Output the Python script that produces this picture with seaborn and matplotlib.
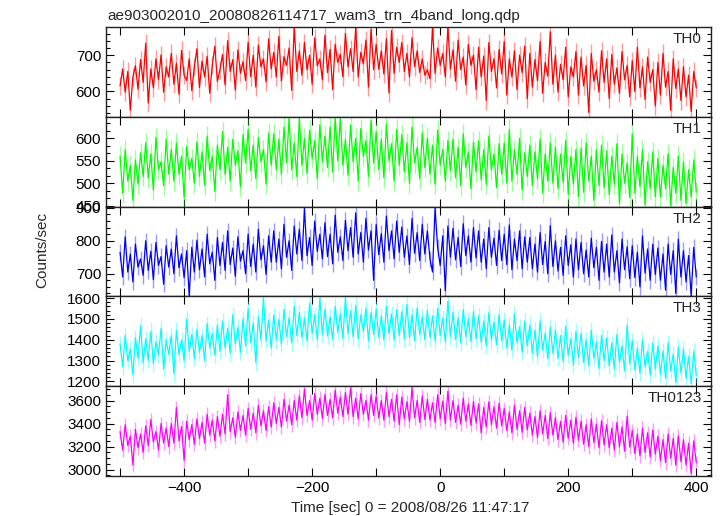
#!/usr/bin/env python
"""
Curvas de luz WAM (4 bandas + suma) para ae903002010, trigger 2008/08/26 11:47:17.
Cinco paneles apilados con eje de tiempo compartido.
"""

import numpy as np
import pandas as pd
import matplotlib
matplotlib.use("Agg")
import matplotlib.pyplot as plt
from matplotlib.ticker import MultipleLocator, FuncFormatter
import seaborn as sns

# --- datos (counts/sec, bins de 4 s desde t = -500 s) ---
BIN_START = -500
BIN_WIDTH = 4

th0_rate = [
    615, 662, 598, 655, 548, 640, 671, 606, 688, 625,
    733, 568, 662, 610, 690, 632, 701, 598, 668, 640,
    705, 620, 678, 592, 713, 645, 630, 690, 602, 668,
    718, 611, 684, 640, 697, 595, 672, 725, 628, 660,
    702, 618, 740, 655, 688, 604, 715, 650, 682, 630,
    736, 641, 700, 612, 728, 668, 690, 626, 745, 662,
    708, 640, 752, 629, 696, 672, 720, 603, 778, 655,
    712, 645, 735, 660, 700, 620, 748, 671, 690, 632,
    755, 652, 716, 605, 730, 680, 702, 640, 760, 668,
    718, 655, 776, 640, 708, 676, 742, 612, 772, 660,
    730, 661, 712, 648, 745, 596, 768, 650, 722, 680,
    735, 655, 705, 640, 748, 668, 712, 652, 690, 645,
    660, 635, 778, 650, 720, 672, 705, 640, 778, 662,
    715, 628, 742, 660, 695, 618, 730, 672, 700, 605,
    722, 640, 698, 575, 735, 655, 690, 610, 716, 648,
    738, 590, 690, 640, 712, 605, 700, 652, 725, 580,
    705, 612, 688, 630, 738, 595, 680, 642, 765, 620,
    700, 598, 675, 632, 722, 585, 668, 640, 710, 590,
    695, 615, 672, 542, 705, 628, 660, 598, 712, 625,
    690, 580, 702, 620, 665, 595, 710, 632, 672, 585,
    685, 600, 722, 610, 668, 578, 695, 625, 660, 560,
    680, 590, 705, 612, 655, 548, 690, 608, 662, 575,
    668, 585, 645, 545, 655, 610,
]

th1_rate = [
    560, 478, 575, 505, 540, 462, 552, 498, 568, 515,
    590, 512, 565, 485, 602, 530, 548, 495, 598, 520,
    575, 505, 590, 520, 560, 468, 582, 530, 555, 500,
    592, 515, 570, 495, 605, 528, 560, 482, 585, 530,
    615, 520, 580, 505, 598, 540, 572, 492, 608, 545,
    620, 528, 585, 510, 602, 548, 575, 498, 612, 540,
    610, 530, 598, 520, 625, 545, 646, 530, 590, 515,
    646, 540, 600, 522, 618, 555, 595, 510, 630, 548,
    605, 535, 625, 525, 646, 550, 645, 540, 598, 518,
    630, 548, 600, 505, 622, 560, 595, 515, 640, 545,
    615, 530, 598, 512, 632, 550, 588, 505, 620, 540,
    608, 525, 590, 500, 625, 545, 580, 510, 612, 535,
    600, 520, 585, 498, 618, 540, 575, 505, 595, 528,
    598, 512, 580, 495, 610, 535, 570, 488, 592, 525,
    595, 508, 575, 498, 605, 530, 565, 490, 588, 520,
    590, 500, 620, 505, 575, 520, 600, 485, 568, 515,
    585, 495, 570, 510, 598, 478, 565, 505, 590, 500,
    580, 488, 565, 502, 595, 475, 560, 498, 575, 470,
    578, 480, 590, 505, 560, 462, 575, 495, 585, 490,
    572, 475, 560, 498, 588, 455, 565, 500, 545, 468,
    610, 478, 560, 492, 575, 452, 548, 488, 570, 470,
    555, 470, 540, 488, 566, 450, 535, 478, 560, 462,
    548, 455, 530, 470, 552, 480,
]

th2_rate = [
    765, 690, 812, 705, 760, 675, 790, 720, 745, 695,
    800, 710, 768, 682, 795, 725, 752, 668, 785, 720,
    775, 700, 815, 718, 760, 688, 770, 632, 780, 705,
    802, 712, 775, 690, 820, 730, 765, 680, 810, 725,
    795, 710, 830, 728, 778, 692, 812, 738, 770, 700,
    820, 722, 790, 705, 835, 742, 785, 698, 815, 735,
    830, 735, 805, 715, 850, 750, 800, 710, 845, 760,
    835, 740, 898, 755, 810, 725, 860, 768, 820, 745,
    855, 752, 820, 730, 878, 765, 812, 740, 862, 770,
    840, 750, 885, 760, 825, 735, 868, 772, 830, 680,
    850, 758, 822, 735, 875, 770, 830, 745, 860, 765,
    842, 750, 815, 728, 868, 762, 825, 740, 850, 760,
    830, 745, 705, 899, 780, 725, 815, 648, 845, 750,
    838, 742, 810, 722, 852, 755, 815, 735, 840, 748,
    830, 735, 805, 715, 840, 750, 808, 725, 832, 740,
    820, 728, 848, 712, 805, 740, 830, 715, 812, 735,
    810, 715, 790, 705, 825, 728, 798, 700, 846, 722,
    800, 708, 780, 695, 815, 725, 788, 690, 805, 712,
    795, 700, 772, 690, 808, 718, 780, 680, 798, 705,
    790, 690, 818, 705, 770, 672, 805, 712, 782, 685,
    785, 688, 765, 660, 815, 702, 775, 680, 790, 698,
    778, 680, 760, 650, 790, 698, 770, 640, 805, 690,
    770, 675, 755, 632, 780, 690,
]

th3_rate = [
    1380, 1270, 1420, 1300, 1355, 1232, 1410, 1310, 1468, 1290,
    1405, 1300, 1440, 1285, 1390, 1325, 1455, 1260, 1400, 1330,
    1420, 1237, 1445, 1330, 1400, 1300, 1500, 1345, 1425, 1310,
    1450, 1340, 1420, 1300, 1478, 1360, 1430, 1325, 1470, 1345,
    1490, 1360, 1455, 1335, 1520, 1380, 1460, 1340, 1500, 1370,
    1550, 1385, 1480, 1290, 1510, 1400, 1600, 1395, 1495, 1360,
    1520, 1400, 1498, 1378, 1545, 1415, 1505, 1385, 1560, 1420,
    1530, 1410, 1505, 1395, 1575, 1430, 1520, 1400, 1600, 1425,
    1545, 1418, 1510, 1400, 1560, 1435, 1525, 1405, 1600, 1430,
    1540, 1415, 1565, 1405, 1520, 1440, 1550, 1395, 1530, 1425,
    1548, 1412, 1515, 1400, 1560, 1430, 1525, 1398, 1545, 1420,
    1535, 1405, 1570, 1410, 1520, 1395, 1552, 1425, 1510, 1400,
    1540, 1410, 1515, 1395, 1550, 1420, 1505, 1390, 1585, 1415,
    1530, 1400, 1505, 1385, 1545, 1415, 1500, 1392, 1535, 1405,
    1515, 1388, 1490, 1370, 1530, 1400, 1485, 1375, 1520, 1395,
    1495, 1360, 1470, 1350, 1525, 1385, 1462, 1340, 1490, 1370,
    1470, 1335, 1445, 1320, 1490, 1350, 1432, 1310, 1460, 1335,
    1445, 1310, 1420, 1295, 1465, 1325, 1405, 1280, 1440, 1315,
    1430, 1290, 1400, 1275, 1445, 1310, 1390, 1262, 1420, 1300,
    1410, 1275, 1385, 1260, 1425, 1290, 1370, 1250, 1470, 1285,
    1395, 1255, 1360, 1240, 1400, 1270, 1345, 1230, 1385, 1260,
    1370, 1235, 1345, 1215, 1385, 1250, 1330, 1195, 1365, 1240,
    1355, 1215, 1320, 1190, 1345, 1230,
]

th0123_rate = [
    3330, 3170, 3390, 3210, 3290, 3040, 3350, 3190, 3310, 3150,
    3380, 3210, 3435, 3240, 3330, 3170, 3400, 3230, 3360, 3200,
    3400, 3230, 3540, 3250, 3375, 3080, 3420, 3260, 3390, 3220,
    3440, 3270, 3410, 3230, 3480, 3300, 3430, 3250, 3460, 3290,
    3480, 3310, 3650, 3330, 3450, 3280, 3500, 3340, 3470, 3300,
    3530, 3350, 3490, 3320, 3560, 3380, 3510, 3340, 3545, 3370,
    3580, 3400, 3540, 3370, 3610, 3420, 3560, 3390, 3600, 3430,
    3640, 3450, 3700, 3470, 3600, 3430, 3660, 3480, 3620, 3445,
    3650, 3470, 3610, 3450, 3690, 3490, 3630, 3460, 3670, 3480,
    3710, 3460, 3620, 3440, 3660, 3480, 3600, 3430, 3650, 3470,
    3640, 3450, 3600, 3430, 3670, 3460, 3610, 3420, 3650, 3390,
    3630, 3440, 3590, 3420, 3710, 3450, 3600, 3410, 3640, 3435,
    3610, 3430, 3580, 3410, 3650, 3440, 3595, 3400, 3680, 3430,
    3600, 3410, 3560, 3395, 3620, 3420, 3570, 3385, 3590, 3405,
    3570, 3320, 3540, 3370, 3590, 3390, 3545, 3360, 3575, 3380,
    3530, 3340, 3500, 3320, 3560, 3350, 3510, 3325, 3540, 3345,
    3490, 3300, 3460, 3280, 3510, 3310, 3470, 3270, 3495, 3300,
    3450, 3260, 3420, 3240, 3470, 3270, 3430, 3230, 3455, 3255,
    3420, 3220, 3390, 3200, 3440, 3235, 3395, 3190, 3425, 3215,
    3390, 3190, 3360, 3170, 3410, 3200, 3370, 3160, 3465, 3195,
    3340, 3140, 3310, 3120, 3360, 3150, 3320, 3110, 3345, 3135,
    3290, 3080, 3260, 3060, 3310, 3100, 3270, 3040, 3295, 3070,
    3260, 3040, 3230, 2965, 3250, 3060,
]

# error tipico por bin (barras claras), leido a ojo
th0_err = 25
th1_err = 22
th2_err = 25
th3_err = 38
th0123_err = 60

band_names = ["TH0", "TH1", "TH2", "TH3", "TH0123"]
band_colors = ["#ff0000", "#00ff00", "#0000ff", "#00ffff", "#ff00ff"]
band_ylims = [(530, 778), (448, 648), (631, 904), (1177, 1608), (2945, 3724)]
band_major = [100, 50, 100, 100, 200]
band_minor = [20, 50 / 3, 20, 20, 50]


def build_frame():
    rates = [th0_rate, th1_rate, th2_rate, th3_rate, th0123_rate]
    errs = [th0_err, th1_err, th2_err, th3_err, th0123_err]
    frames = []
    for name, r, e in zip(band_names, rates, errs):
        t = BIN_START + BIN_WIDTH * np.arange(len(r))
        frames.append(pd.DataFrame({"time": t, "rate": r, "err": e, "band": name}))
    return pd.concat(frames, ignore_index=True)


def main():
    sns.set_style("ticks")
    plt.rcParams["font.family"] = ["Liberation Sans", "DejaVu Sans"]
    plt.rcParams["font.size"] = 11

    df = build_frame()

    fig, axes = plt.subplots(5, 1, sharex=True, figsize=(7.23, 5.16), dpi=100)
    fig.subplots_adjust(left=0.1466, right=0.9834, top=0.9477, bottom=0.0775, hspace=0)

    for ax, name, color, ylim, maj, mnr in zip(axes, band_names, band_colors,
                                              band_ylims, band_major, band_minor):
        sub = df[df["band"] == name]
        # barras de error claras debajo de la curva
        ax.errorbar(sub["time"], sub["rate"], yerr=sub["err"], fmt="none",
                    ecolor=color, elinewidth=1.0, alpha=0.4)
        sns.lineplot(data=sub, x="time", y="rate", ax=ax, color=color,
                     linewidth=0.9, estimator=None, sort=False, legend=False)
        ax.set_ylim(*ylim)
        ax.set_xlim(-522, 423)
        ax.set_xlabel("")
        ax.set_ylabel("")
        ax.yaxis.set_major_locator(MultipleLocator(maj))
        ax.yaxis.set_minor_locator(MultipleLocator(mnr))
        ax.xaxis.set_major_locator(MultipleLocator(200))
        ax.xaxis.set_minor_locator(MultipleLocator(100))
        ax.tick_params(which="both", direction="in", top=True, right=True,
                       labelsize=11, colors="black")
        ax.tick_params(which="major", length=6, width=0.8)
        ax.tick_params(which="minor", length=3, width=0.8)
        ax.tick_params(axis="x", which="minor", length=6)
        for sp in ax.spines.values():
            sp.set_linewidth(1.0)
            sp.set_color("#222222")
        ax.text(0.985, 0.945, name, transform=ax.transAxes, ha="right", va="top",
                fontsize=11)

    axes[-1].xaxis.set_major_formatter(
        FuncFormatter(lambda v, p: f"{int(v)}".replace("-", "\u2212")))

    fig.text(0.149, 0.969, "ae903002010_20080826114717_wam3_trn_4band_long.qdp",
             ha="left", va="center", fontsize=11)
    fig.text(0.058, 0.515, "Counts/sec", rotation=90, ha="center", va="center",
             fontsize=11)
    fig.text(0.567, 0.016, "Time [sec] 0 = 2008/08/26 11:47:17", ha="center",
             va="center", fontsize=11)

    fig.savefig("out.png", dpi=100)


if __name__ == "__main__":
    main()
